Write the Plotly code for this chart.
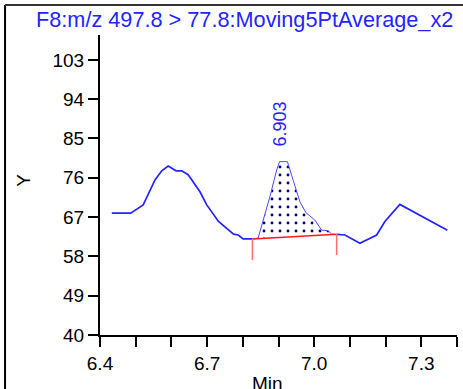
import plotly.graph_objects as go

# Smoothed SRM trace (retention time in min, response)
rt = [6.433, 6.486, 6.521, 6.554, 6.573, 6.591, 6.613, 6.629, 6.647, 6.680,
      6.699, 6.732, 6.774, 6.787, 6.801, 6.829, 6.843, 6.857, 6.876, 6.895,
      6.903, 6.925, 6.941, 6.960, 6.977, 7.002, 7.021, 7.039, 7.049, 7.086,
      7.128, 7.175, 7.198, 7.240, 7.373]
resp = [67.9, 67.9, 69.8, 75.5, 77.6, 78.7, 77.6, 77.6, 76.7, 72.8,
        69.8, 66.0, 63.1, 62.9, 62.0, 62.0, 62.2, 66.0, 71.7, 77.8,
        79.7, 79.7, 75.5, 70.5, 68.0, 66.3, 64.0, 63.9, 63.1, 62.9,
        61.0, 62.9, 66.0, 69.9, 64.0]

# Integrated peak: apex label and baseline end points
peak_rt = 6.903
peak_start = (6.827, 62.0)
peak_end = (7.063, 63.1)
marker_drop = 4.8

# Axis ticks
x_ticks = [6.4, 6.5, 6.6, 6.7, 6.8, 6.9, 7.0, 7.1, 7.2, 7.3, 7.4]
x_ticktext = ["6.4", "", "", "6.7", "", "", "7.0", "", "", "7.3", ""]
y_ticks = [40, 49, 58, 67, 76, 85, 94, 103]

title_text = "F8:m/z 497.8 > 77.8:Moving5PtAverage_x2"

BLUE = "#2424ff"
FONT = "Liberation Sans"


def interp(x):
    for i in range(len(rt) - 1):
        if rt[i] <= x <= rt[i + 1]:
            t = (x - rt[i]) / (rt[i + 1] - rt[i])
            return resp[i] + t * (resp[i + 1] - resp[i])
    return resp[-1]


# Split trace into outside-peak segments and the in-peak curve
xs_out, ys_out = [], []
for x, y in zip(rt, resp):
    if x < peak_start[0]:
        xs_out.append(x); ys_out.append(y)
xs_out.append(peak_start[0]); ys_out.append(interp(peak_start[0]))
xs_out.append(None); ys_out.append(None)
xs_out.append(peak_end[0]); ys_out.append(interp(peak_end[0]))
for x, y in zip(rt, resp):
    if x > peak_end[0]:
        xs_out.append(x); ys_out.append(y)

xs_pk = [peak_start[0]] + [x for x in rt if peak_start[0] < x < peak_end[0]] + [peak_end[0]]
ys_pk = [peak_start[1]] + [interp(x) for x in xs_pk[1:-1]] + [interp(peak_end[0])]

fig = go.Figure()

# Dotted peak area between curve and baseline
fig.add_trace(go.Scatter(
    x=xs_pk + [peak_end[0], peak_start[0]],
    y=ys_pk + [peak_end[1], peak_start[1]],
    mode="lines", fill="toself", line=dict(width=0),
    fillcolor="white",
    fillpattern=dict(shape=".", size=8, solidity=0.1,
                     fgcolor="#00007a", bgcolor="white", fillmode="replace"),
    hoverinfo="skip", showlegend=False))

fig.add_trace(go.Scatter(x=xs_out, y=ys_out, mode="lines",
                         line=dict(color=BLUE, width=1.7), showlegend=False))
fig.add_trace(go.Scatter(x=xs_pk, y=ys_pk, mode="lines",
                         line=dict(color="#4a4aff", width=1), showlegend=False))

# Baseline and start/end markers
fig.add_trace(go.Scatter(x=[peak_start[0], peak_end[0]], y=[peak_start[1], peak_end[1]],
                         mode="lines", line=dict(color="#ff1a1a", width=1.5),
                         showlegend=False))
for (bx, by) in (peak_start, peak_end):
    fig.add_trace(go.Scatter(x=[bx, bx], y=[by, by - marker_drop], mode="lines",
                             line=dict(color="#ff7070", width=1.6), showlegend=False))

fig.add_annotation(x=peak_rt, y=max(resp) + 3, xref="x", yref="y",
                   text="6.903", textangle=-90, showarrow=False,
                   xanchor="center", yanchor="bottom",
                   font=dict(family=FONT, size=18, color=BLUE))

fig.add_annotation(x=0.406, y=1.05, xref="paper", yref="paper", text=title_text,
                   showarrow=False, xanchor="center", yanchor="middle",
                   font=dict(family=FONT, size=21.7, color=BLUE))
fig.add_annotation(x=-0.213, y=0.517, xref="paper", yref="paper", text="Y",
                   textangle=-90, showarrow=False, xanchor="center", yanchor="middle",
                   font=dict(family=FONT, size=19, color="black"))
fig.add_annotation(x=0.468, y=-0.16, xref="paper", yref="paper", text="Min",
                   showarrow=False, xanchor="center", yanchor="middle",
                   font=dict(family=FONT, size=19, color="black"))

# Outer frame lines
fig.add_shape(type="line", xref="paper", yref="paper", x0=-0.266, x1=-0.266,
              y0=1.1, y1=-0.2, line=dict(color="black", width=2))
fig.add_shape(type="line", xref="paper", yref="paper", x0=-0.266, x1=1.02,
              y0=1.1, y1=1.1, line=dict(color="#333333", width=2))

fig.update_xaxes(range=[6.4, 7.4], tickvals=x_ticks, ticktext=x_ticktext,
                 showline=True, linecolor="black", linewidth=2,
                 ticks="outside", ticklen=10, tickwidth=2, tickcolor="black",
                 showgrid=False, zeroline=False,
                 tickfont=dict(family=FONT, size=19, color="black"))
fig.update_yaxes(range=[40, 108.7], tickvals=y_ticks,
                 showline=True, linecolor="black", linewidth=2,
                 ticks="outside", ticklen=10, tickwidth=2, tickcolor="black",
                 showgrid=False, zeroline=False,
                 tickfont=dict(family=FONT, size=19, color="black"))

fig.update_layout(width=463, height=389, margin=dict(l=100, r=6, t=35, b=54),
                  paper_bgcolor="white", plot_bgcolor="white", showlegend=False)

fig.write_html("out.html")
